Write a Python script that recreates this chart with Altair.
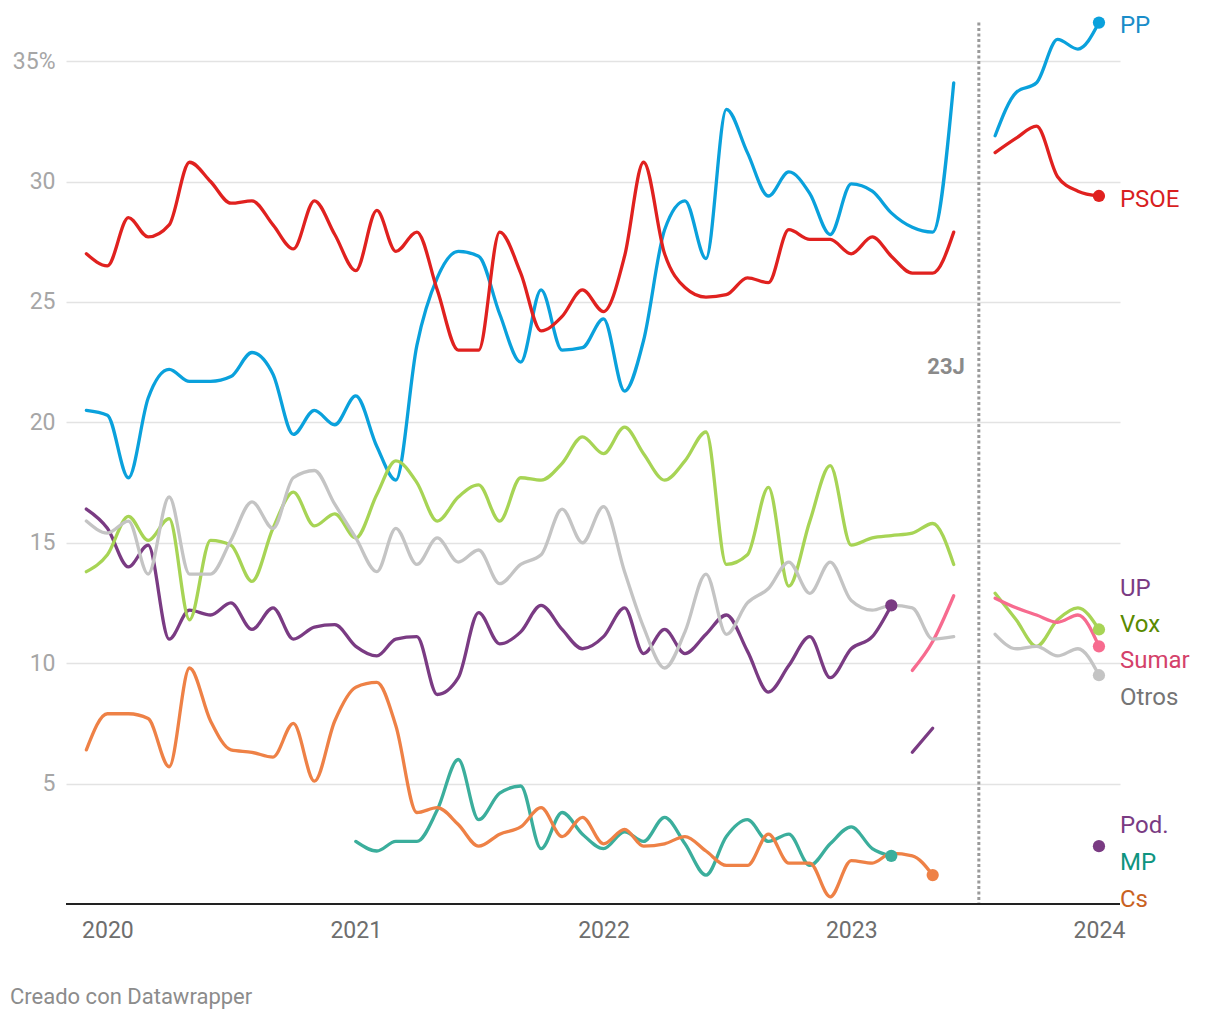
import altair as alt
import pandas as pd

N = None

# Monthly poll averages (Dec 2019 .. Jun 2023) and after the 23J election (Aug 2023 .. Jan 2024)
PRE_DATES = [d.strftime("%Y-%m-%dT00:00:00") for d in pd.date_range("2019-12-01", "2023-06-01", freq="MS")]
POST_DATES = [d.strftime("%Y-%m-%dT00:00:00") for d in pd.date_range("2023-08-01", "2024-01-01", freq="MS")]

PP_PRE = [20.5, 20.3, 17.7, 21.0, 22.2, 21.7, 21.7, 21.9, 22.9, 22.0,
          19.5, 20.5, 19.9, 21.1, 19.0, 17.6, 23.2, 26.0, 27.1, 26.9,
          24.5, 22.5, 25.5, 23.0, 23.1, 24.3, 21.3, 23.4, 28.0, 29.2,
          26.8, 33.0, 31.2, 29.4, 30.4, 29.5, 27.8, 29.9, 29.6, 28.7,
          28.1, 27.9, 34.1]
PSOE_PRE = [27.0, 26.5, 28.5, 27.7, 28.2, 30.8, 30.0, 29.1, 29.2, 28.2,
            27.2, 29.2, 27.8, 26.3, 28.8, 27.1, 27.9, 25.5, 23.0, 23.0,
            27.9, 26.2, 23.8, 24.4, 25.5, 24.6, 26.9, 30.8, 27.0, 25.6,
            25.2, 25.3, 26.0, 25.8, 28.0, 27.6, 27.6, 27.0, 27.7, 26.9,
            26.2, 26.2, 27.9]
VOX_PRE = [13.8, 14.5, 16.1, 15.1, 16.0, 11.8, 15.1, 14.9, 13.4, 15.6,
           17.1, 15.7, 16.2, 15.2, 17.0, 18.4, 17.5, 15.9, 16.9, 17.4,
           15.9, 17.7, 17.6, 18.3, 19.4, 18.7, 19.8, 18.7, 17.6, 18.4,
           19.6, 14.1, 14.5, 17.3, 13.2, 15.9, 18.2, 14.9, 15.2, 15.3,
           15.4, 15.8, 14.1]
OTROS_PRE = [15.9, 15.4, 15.9, 13.7, 16.9, 13.7, 13.7, 15.1, 16.7, 15.6,
             17.7, 18.0, 16.6, 15.2, 13.8, 15.6, 14.1, 15.2, 14.2, 14.7,
             13.3, 14.1, 14.5, 16.4, 15.0, 16.5, 13.8, 11.5, 9.8, 11.3,
             13.7, 11.2, 12.5, 13.1, 14.2, 12.9, 14.2, 12.6, 12.2, 12.4,
             12.3, 11.0, 11.1]
UP_PRE = [16.4, 15.6, 14.0, 14.9, 11.0, 12.2, 12.0, 12.5, 11.4, 12.3,
          11.0, 11.5, 11.6, 10.7, 10.3, 11.0, 11.1, 8.7, 9.4, 12.1,
          10.8, 11.3, 12.4, 11.4, 10.6, 11.1, 12.3, 10.4, 11.4, 10.4,
          11.2, 12.0, 10.5, 8.8, 9.9, 11.1, 9.4, 10.6, 11.1, 12.4,
          N, N, N]
CS_PRE = [6.4, 7.9, 7.9, 7.7, 5.7, 9.8, 7.6, 6.4, 6.3, 6.1,
          7.5, 5.1, 7.6, 9.0, 9.2, 7.4, 3.8, 4.0, 3.3, 2.4,
          2.9, 3.2, 4.0, 2.8, 3.6, 2.5, 3.1, 2.4, 2.5, 2.8,
          2.2, 1.6, 1.6, 2.9, 1.7, 1.7, 0.3, 1.8, 1.7, 2.1,
          2.0, 1.2, N]
MP_PRE = [N, N, N, N, N, N, N, N, N, N,
          N, N, N, 2.6, 2.2, 2.6, 2.6, 3.9, 6.0, 3.5,
          4.6, 4.9, 2.3, 3.8, 2.9, 2.3, 3.0, 2.6, 3.6, 2.5,
          1.2, 2.8, 3.5, 2.6, 2.9, 1.6, 2.5, 3.2, 2.3, 2.0,
          N, N, N]
SUMAR_PRE = [N] * 40 + [9.7, 10.9, 12.8]
POD_PRE = [N] * 40 + [6.3, 7.3, N]

PP_POST = [31.9, 33.7, 34.1, 35.9, 35.5, 36.6]
PSOE_POST = [31.2, 31.8, 32.3, 30.2, 29.6, 29.4]
VOX_POST = [12.9, 11.8, 10.7, 11.8, 12.3, 11.4]
SUMAR_POST = [12.7, 12.3, 12.0, 11.7, 12.0, 10.7]
OTROS_POST = [11.2, 10.6, 10.7, 10.3, 10.6, 9.5]
POD_POST = [N, N, N, N, N, 2.4]

PARTIES = ["PP", "PSOE", "UP", "Vox", "Sumar", "Otros", "Pod.", "MP", "Cs"]
LINE_COLORS = ["#0aa1dc", "#e0211f", "#7a3b83", "#a7d455", "#f76b8f", "#c4c4c4", "#7a3b83", "#3bae9c", "#ee8146"]
LABEL_COLORS = ["#1a8dc9", "#d81f1f", "#7a3b83", "#5a8a00", "#d4416a", "#757575", "#7a3b83", "#0e9480", "#c9621f"]

# label placement (in % units) to the right of the last month
LABEL_Y = [36.45, 29.25, 13.1, 11.6, 10.1, 8.55, 3.25, 1.7, 0.15]

ELECTION_DATE = "2023-07-08T00:00:00"
LAST_DATE = "2024-01-01T00:00:00"

PRE = {"PP": PP_PRE, "PSOE": PSOE_PRE, "UP": UP_PRE, "Vox": VOX_PRE, "Sumar": SUMAR_PRE,
       "Otros": OTROS_PRE, "Pod.": POD_PRE, "MP": MP_PRE, "Cs": CS_PRE}
POST = {"PP": PP_POST, "PSOE": PSOE_POST, "Vox": VOX_POST, "Sumar": SUMAR_POST,
        "Otros": OTROS_POST, "Pod.": POD_POST}
DOT_SEGS = ["PP-post", "PSOE-post", "Vox-post", "Sumar-post", "Otros-post", "Pod.-post",
            "UP-pre", "MP-pre", "Cs-pre"]

rows = []
for p in PARTIES:
    for phase, dates, vals in (("pre", PRE_DATES, PRE.get(p)), ("post", POST_DATES, POST.get(p))):
        if vals is None:
            continue
        for d, v in zip(dates, vals):
            if v is not None:
                rows.append({"party": p, "seg": f"{p}-{phase}", "date": d, "value": v})
df = pd.DataFrame(rows)
dots = df.groupby("seg").tail(1)
dots = dots[dots["seg"].isin(DOT_SEGS)]

labels = pd.DataFrame({"party": PARTIES, "y": LABEL_Y, "date": [LAST_DATE] * len(PARTIES)})

FONT = "Roboto"
W, H = 1054, 879
YMAX = 36.5

x_enc = alt.X(
    "date:T",
    scale=alt.Scale(domain=[alt.DateTime(year=2019, month=11, date=1),
                            alt.DateTime(year=2024, month=2, date=1)]),
    axis=alt.Axis(values=[alt.DateTime(year=y, month=1, date=1) for y in range(2020, 2025)],
                  format="%Y", grid=False, domain=False, ticks=False, labelPadding=15,
                  labelFontSize=23, labelColor="#6e6e6e", labelFont=FONT, title=None),
)
y_scale = alt.Scale(domain=[0, YMAX], nice=False, zero=True)
y_enc = alt.Y(
    "value:Q", scale=y_scale,
    axis=alt.Axis(values=[5, 10, 15, 20, 25, 30, 35],
                  labelExpr="datum.value == 35 ? '35%' : datum.label",
                  grid=True, gridColor="#e3e3e3", gridWidth=1.6, domain=False, ticks=False,
                  labelPadding=11, labelFontSize=23, labelColor="#a6a6a6", labelFont=FONT,
                  title=None),
)
color_lines = alt.Color("party:N", scale=alt.Scale(domain=PARTIES, range=LINE_COLORS), legend=None)

lines = alt.Chart(df).mark_line(interpolate="monotone", strokeWidth=3.3, strokeCap="round",
                                strokeJoin="round").encode(
    x=x_enc, y=y_enc, color=color_lines, detail="seg:N")

points = alt.Chart(dots).mark_circle(size=150, opacity=1).encode(
    x="date:T", y="value:Q", color=alt.Color("party:N", scale=alt.Scale(domain=PARTIES, range=LINE_COLORS), legend=None))

baseline = alt.Chart(pd.DataFrame({"value": [0]})).mark_rule(color="#222222", strokeWidth=2).encode(
    y="value:Q")

election = pd.DataFrame({"date": [ELECTION_DATE], "value": [36.6], "value2": [0], "ty": [22.3], "txt": ["23J"]})
election_rule = alt.Chart(election).mark_rule(color="#9a9a9a", strokeWidth=3, strokeDash=[3, 2.5]).encode(
    x="date:T", y="value:Q", y2="value2:Q")
election_text = alt.Chart(election).mark_text(align="right", baseline="middle", dx=-14, fontSize=22,
                                              fontWeight="bold", color="#8a8a8a", font=FONT).encode(
    x="date:T", y=alt.Y("ty:Q"), text="txt:N")

label_text = alt.Chart(labels).mark_text(align="left", baseline="middle", dx=21, fontSize=24, font=FONT).encode(
    x="date:T", y=alt.Y("y:Q"), text="party:N",
    color=alt.Color("party:N", scale=alt.Scale(domain=PARTIES, range=LABEL_COLORS), legend=None))

footer = alt.Chart(pd.DataFrame({"t": ["Creado con Datawrapper"]})).mark_text(
    align="left", baseline="middle", fontSize=22, color="#8c8c8c", font=FONT).encode(
    x=alt.value(-56), y=alt.value(972), text="t:N")

chart = alt.layer(election_rule, baseline, lines, points, election_text, label_text, footer).resolve_scale(
    color="independent").properties(
    width=W, height=H,
    padding={"left": 58, "top": 17, "right": 92, "bottom": 108},
    autosize=alt.AutoSizeParams(type="none"),
).configure_view(stroke=None, strokeWidth=0)

chart.save("out.html", embed_options={"renderer": "svg", "actions": False})
